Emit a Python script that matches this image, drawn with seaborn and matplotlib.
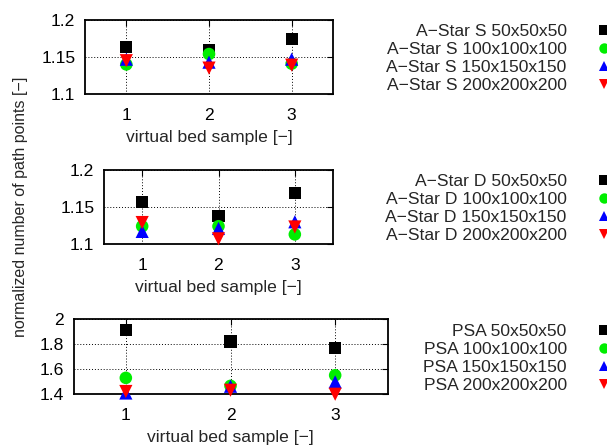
import matplotlib
matplotlib.use("Agg")
import matplotlib.pyplot as plt
import seaborn as sns
import pandas as pd
from matplotlib.lines import Line2D

sns.set_theme(style="white")
plt.rcParams["font.family"] = ["Liberation Sans", "DejaVu Sans"]

samples = [1, 2, 3]
grids = ["50x50x50", "100x100x100", "150x150x150", "200x200x200"]

astar_s_50 = [1.164, 1.159, 1.174]
astar_s_100 = [1.140, 1.154, 1.141]
astar_s_150 = [1.147, 1.143, 1.147]
astar_s_200 = [1.145, 1.135, 1.139]

astar_d_50 = [1.157, 1.138, 1.169]
astar_d_100 = [1.124, 1.124, 1.113]
astar_d_150 = [1.117, 1.121, 1.130]
astar_d_200 = [1.129, 1.107, 1.123]

psa_50 = [1.914, 1.820, 1.766]
psa_100 = [1.529, 1.465, 1.550]
psa_150 = [1.408, 1.462, 1.497]
psa_200 = [1.420, 1.430, 1.398]

colors = ["#000000", "#00ee00", "#0000ff", "#ff0000"]
markers = ["s", "o", "^", "v"]
marker_area = [78, 82, 90, 90]

panels = [
    dict(name="A\u2212Star S", values=[astar_s_50, astar_s_100, astar_s_150, astar_s_200],
         yticks=[1.1, 1.15, 1.2], yticklabels=["1.1", "1.15", "1.2"], ylim=(1.1, 1.2),
         rect=(85, 20, 333, 94), legend_top=24),
    dict(name="A\u2212Star D", values=[astar_d_50, astar_d_100, astar_d_150, astar_d_200],
         yticks=[1.1, 1.15, 1.2], yticklabels=["1.1", "1.15", "1.2"], ylim=(1.1, 1.2),
         rect=(104, 170, 333, 244), legend_top=174),
    dict(name="PSA", values=[psa_50, psa_100, psa_150, psa_200],
         yticks=[1.4, 1.6, 1.8, 2.0], yticklabels=["1.4", "1.6", "1.8", "2"], ylim=(1.4, 2.0),
         rect=(73.5, 319, 387.5, 394), legend_top=324),
]

W, H = 607, 447
fig = plt.figure(figsize=(W / 100, H / 100), dpi=100)
FS = 12.6

for p in panels:
    l, t, r, b = p["rect"]
    ax = fig.add_axes([l / W, 1 - b / H, (r - l) / W, (b - t) / H])
    labels = [f"{p['name']} {g}" for g in grids]
    rows = []
    for lab, vals in zip(labels, p["values"]):
        for s, v in zip(samples, vals):
            rows.append({"sample": s, "value": v, "series": lab})
    df = pd.DataFrame(rows)
    sns.scatterplot(data=df, x="sample", y="value", hue="series", style="series",
                    palette=dict(zip(labels, colors)), markers=dict(zip(labels, markers)),
                    size="series", sizes=dict(zip(labels, marker_area)),
                    hue_order=labels, style_order=labels, size_order=labels,
                    edgecolor="none", linewidth=0, legend=False, ax=ax, zorder=3, clip_on=False)
    ax.set_xlim(0.5, 3.5)
    ax.set_ylim(*p["ylim"])
    ax.set_xticks(samples)
    ax.set_xticklabels([str(s) for s in samples], fontsize=FS)
    ax.set_yticks(p["yticks"])
    ax.set_yticklabels(p["yticklabels"], fontsize=FS)
    ax.set_xlabel("virtual bed sample [\u2212]", fontsize=FS, labelpad=5)
    ax.set_ylabel("")
    ax.grid(True, color="black", linestyle=(0, (1, 2)), linewidth=0.7)
    ax.tick_params(direction="in", length=4, width=0.8, top=True, right=True, colors="black")
    ax.tick_params(axis="x", pad=10)
    ax.tick_params(axis="y", pad=7)
    for sp in ax.spines.values():
        sp.set_color("black")
        sp.set_linewidth(1.3)

    handles = [Line2D([], [], linestyle="none", marker=m, color=c, markersize=7.5,
                      markeredgewidth=0) for m, c in zip(markers, colors)]
    leg = ax.legend(handles, labels, loc="upper right",
                    bbox_to_anchor=(613 / W, 1 - p["legend_top"] / H),
                    bbox_transform=fig.transFigure, frameon=False, markerfirst=False,
                    fontsize=FS, handlelength=1.0, handletextpad=1.65,
                    labelspacing=0.15, borderpad=0, borderaxespad=0)
    leg.set_clip_on(False)

fig.text(21 / W, 1 - 207 / H, "normalized number of path points [\u2212]",
         rotation=90, ha="center", va="center", fontsize=11.5)

fig.savefig("out.png", dpi=100)
